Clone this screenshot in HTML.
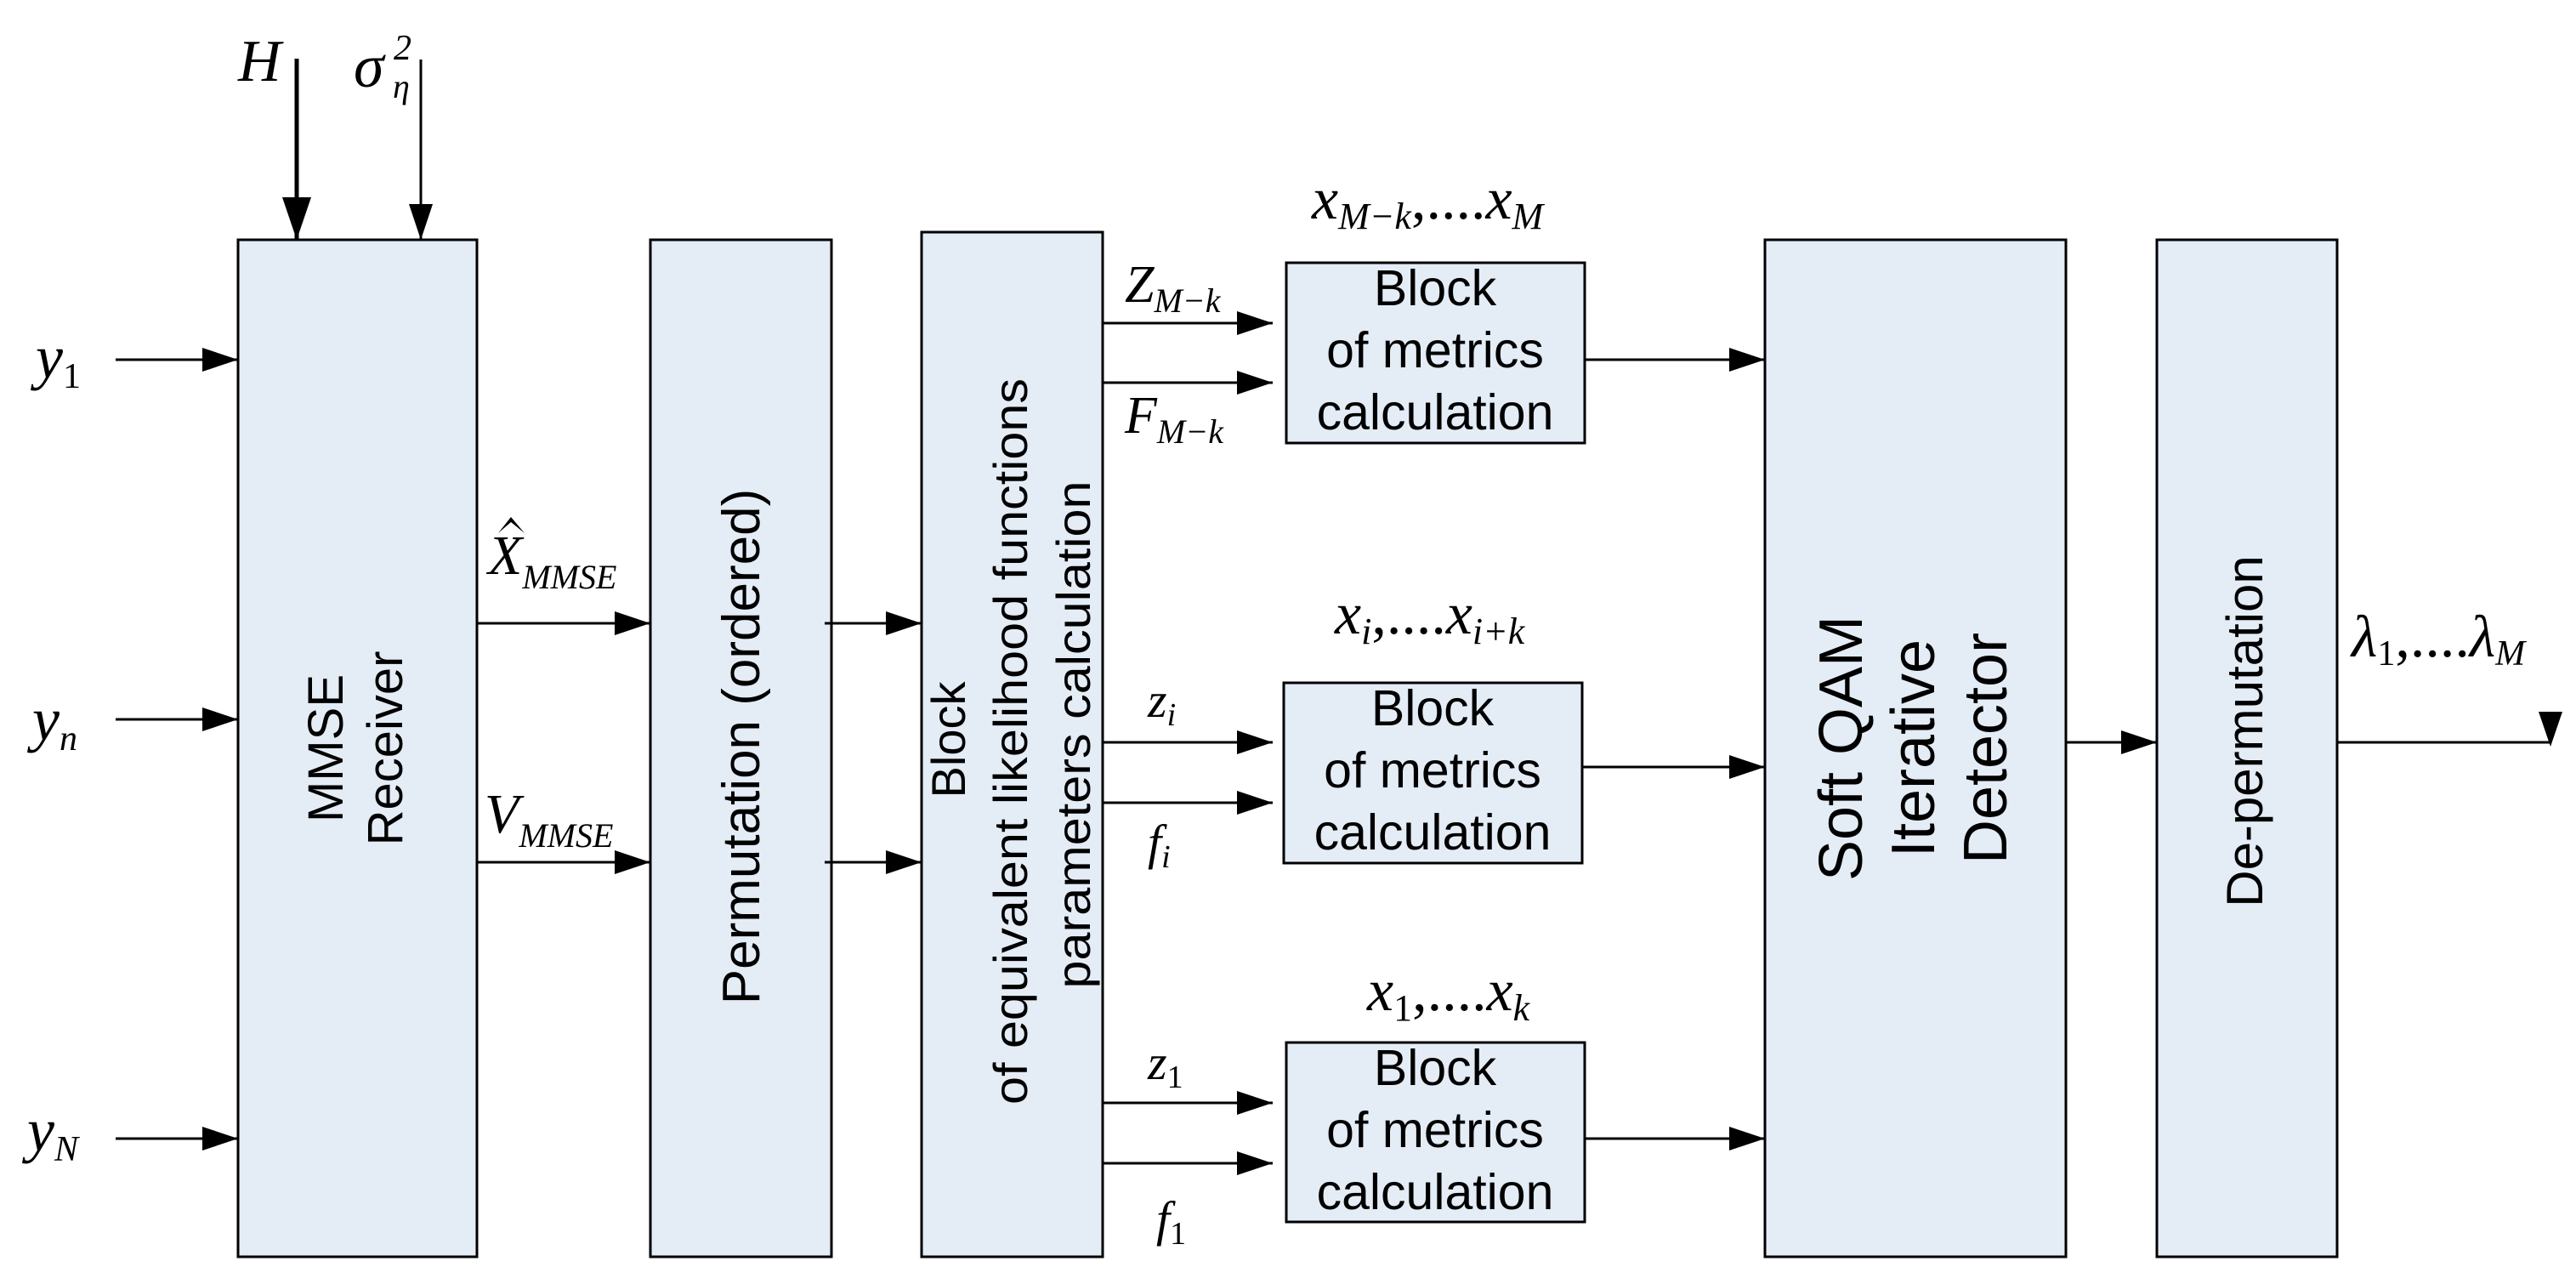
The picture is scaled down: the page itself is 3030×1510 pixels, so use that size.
<!DOCTYPE html>
<html><head><meta charset="utf-8"><style>
html,body{margin:0;padding:0;background:#fff;}
svg{display:block;}
.m{font-family:"Liberation Serif",serif;font-style:italic;fill:#000;}
.s{font-family:"Liberation Sans",sans-serif;fill:#000;}
</style></head><body>
<svg width="3030" height="1510" viewBox="0 0 3030 1510" xmlns="http://www.w3.org/2000/svg">
<defs>
<marker id="a" markerWidth="42" markerHeight="28" refX="42" refY="14" orient="auto" markerUnits="userSpaceOnUse">
<path d="M0,0 L42,14 L0,28 Z" fill="#000"/></marker>
<marker id="b" markerWidth="50" markerHeight="34" refX="50" refY="17" orient="auto" markerUnits="userSpaceOnUse">
<path d="M0,0 L50,17 L0,34 Z" fill="#000"/></marker>
</defs>
<g fill="#e4ecf6" stroke="#000" stroke-width="3">
<rect x="280" y="282" width="281" height="1196"/>
<rect x="765" y="282" width="213" height="1196"/>
<rect x="1084" y="273" width="213" height="1205"/>
<rect x="1513" y="309" width="351" height="212"/>
<rect x="1510" y="803" width="351" height="212"/>
<rect x="1513" y="1226" width="351" height="211"/>
<rect x="2076" y="282" width="354" height="1196"/>
<rect x="2537" y="282" width="212" height="1196"/>
</g>
<g stroke="#000" stroke-width="3" fill="none">
<line x1="349" y1="69" x2="349" y2="282" stroke-width="5" marker-end="url(#b)"/>
<line x1="495" y1="70" x2="495" y2="282" marker-end="url(#a)"/>
<line x1="136" y1="423" x2="280" y2="423" marker-end="url(#a)"/>
<line x1="136" y1="846" x2="280" y2="846" marker-end="url(#a)"/>
<line x1="136" y1="1339" x2="280" y2="1339" marker-end="url(#a)"/>
<line x1="561" y1="733" x2="765" y2="733" marker-end="url(#a)"/>
<line x1="561" y1="1014" x2="765" y2="1014" marker-end="url(#a)"/>
<line x1="970" y1="733" x2="1084" y2="733" marker-end="url(#a)"/>
<line x1="970" y1="1014" x2="1084" y2="1014" marker-end="url(#a)"/>
<line x1="1297" y1="380" x2="1497" y2="380" marker-end="url(#a)"/>
<line x1="1297" y1="450" x2="1497" y2="450" marker-end="url(#a)"/>
<line x1="1297" y1="873" x2="1497" y2="873" marker-end="url(#a)"/>
<line x1="1297" y1="944" x2="1497" y2="944" marker-end="url(#a)"/>
<line x1="1297" y1="1297" x2="1497" y2="1297" marker-end="url(#a)"/>
<line x1="1297" y1="1368" x2="1497" y2="1368" marker-end="url(#a)"/>
<line x1="1864" y1="423" x2="2076" y2="423" marker-end="url(#a)"/>
<line x1="1861" y1="902" x2="2076" y2="902" marker-end="url(#a)"/>
<line x1="1864" y1="1339" x2="2076" y2="1339" marker-end="url(#a)"/>
<line x1="2430" y1="873" x2="2537" y2="873" marker-end="url(#a)"/>
<line x1="2749" y1="873" x2="3000" y2="873"/>
</g>
<path d="M2986,837 L3014,837 L3000,878 Z" fill="#000"/>
<path d="M586,627 L601,608 L617,627 L601,614 Z" fill="#000"/>

<!-- math labels -->
<text class="m" x="280" y="95" font-size="70">H</text>
<text class="m" x="416" y="102" font-size="72">σ</text>
<text class="m" x="463" y="70" font-size="42" font-style="normal">2</text>
<text class="m" x="462" y="115" font-size="40">η</text>
<text class="m" x="42" y="444" font-size="72">y<tspan font-size="42" font-style="normal" dy="12">1</tspan></text>
<text class="m" x="38" y="870" font-size="72">y<tspan font-size="42" dy="12">n</tspan></text>
<text class="m" x="32" y="1353" font-size="72">y<tspan font-size="42" dy="12">N</tspan></text>
<text class="m" x="574" y="675" font-size="66">X<tspan font-size="40" dy="17">MMSE</tspan></text>
<text class="m" x="570" y="979" font-size="66">V<tspan font-size="40" dy="17">MMSE</tspan></text>
<text class="m" x="1323" y="355" font-size="62">Z<tspan font-size="40" dy="12">M−k</tspan></text>
<text class="m" x="1323" y="509" font-size="62">F<tspan font-size="40" dy="12">M−k</tspan></text>
<text class="m" x="1350" y="843" font-size="58">z<tspan font-size="38" dy="10">i</tspan></text>
<text class="m" x="1350" y="1010" font-size="58">f<tspan font-size="38" dy="10">i</tspan></text>
<text class="m" x="1350" y="1269" font-size="58">z<tspan font-size="38" font-style="normal" dy="10">1</tspan></text>
<text class="m" x="1360" y="1453" font-size="58">f<tspan font-size="38" font-style="normal" dy="10">1</tspan></text>
<text class="m" x="1543" y="257" font-size="70">x<tspan font-size="44" dy="12">M−k</tspan><tspan dy="-12" font-style="normal">,....</tspan>x<tspan font-size="44" dy="12">M</tspan></text>
<text class="m" x="1570" y="745" font-size="70">x<tspan font-size="44" dy="12">i</tspan><tspan dy="-12" font-style="normal">,....</tspan>x<tspan font-size="44" dy="12">i+k</tspan></text>
<text class="m" x="1608" y="1188" font-size="70">x<tspan font-size="44" font-style="normal" dy="12">1</tspan><tspan dy="-12" font-style="normal">,....</tspan>x<tspan font-size="44" dy="12">k</tspan></text>
<text class="m" x="2766" y="772" font-size="70">λ<tspan font-size="42" font-style="normal" dy="10">1</tspan><tspan dy="-10" font-style="normal">,....</tspan>λ<tspan font-size="42" dy="10">M</tspan></text>

<!-- metrics boxes text -->
<g class="s" font-size="59" text-anchor="middle">
<text x="1688" y="359">Block</text><text x="1688" y="432">of metrics</text><text x="1688" y="505">calculation</text>
<text x="1685" y="853">Block</text><text x="1685" y="926">of metrics</text><text x="1685" y="999">calculation</text>
<text x="1688" y="1276">Block</text><text x="1688" y="1349">of metrics</text><text x="1688" y="1422">calculation</text>
</g>
<!-- rotated texts -->
<g class="s" text-anchor="middle">
<text transform="translate(403,880) rotate(-90)" font-size="58">MMSE</text>
<text transform="translate(473,880) rotate(-90)" font-size="58">Receiver</text>
<text transform="translate(893,878) rotate(-90)" font-size="62">Permutation (ordered)</text>
<text transform="translate(1135,870) rotate(-90)" font-size="56">Block</text>
<text transform="translate(1208,872) rotate(-90)" font-size="56" textLength="854" lengthAdjust="spacingAndGlyphs">of equivalent likelihood functions</text>
<text transform="translate(1282,864) rotate(-90)" font-size="56" textLength="597" lengthAdjust="spacingAndGlyphs">parameters calculation</text>
<text transform="translate(2190,880) rotate(-90)" font-size="72">Soft QAM</text>
<text transform="translate(2275,880) rotate(-90)" font-size="72">Iterative</text>
<text transform="translate(2360,880) rotate(-90)" font-size="72">Detector</text>
<text transform="translate(2661,860) rotate(-90)" font-size="60">De-permutation</text>
</g>
</svg>
</body></html>
